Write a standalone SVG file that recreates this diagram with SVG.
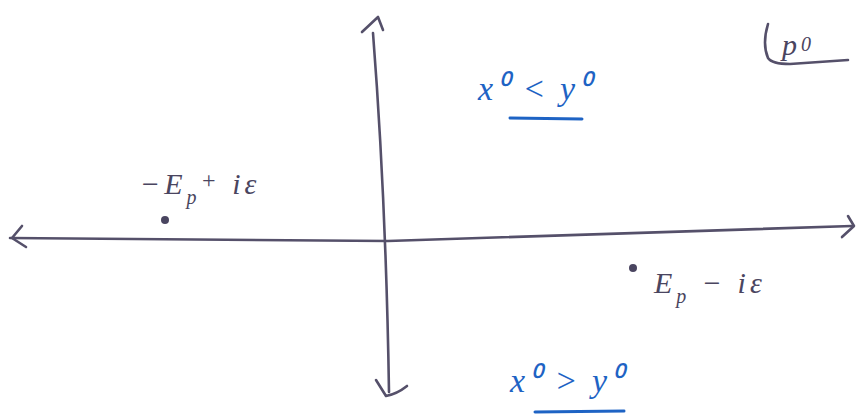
<svg xmlns="http://www.w3.org/2000/svg" width="859" height="419" viewBox="0 0 859 419">
<style>
.ax{fill:none;stroke:#55506a;stroke-width:2.6;stroke-linecap:round;stroke-linejoin:round}
.lbl{font-family:"Liberation Serif",serif;font-style:italic;fill:#4a4560;font-size:30px;letter-spacing:4px}
.blue{font-family:"Liberation Serif",serif;font-style:italic;fill:#1e63c4;font-size:34px;letter-spacing:3px}
.ul{stroke:#1e63c4;stroke-width:3;stroke-linecap:round;fill:none}
.pt{fill:#4a4560}
</style>
<rect width="859" height="419" fill="#ffffff"/>
<g id="connectors">
<path class="ax" d="M10,238 L388,241 L852,226"/>
<path class="ax" d="M22,226 L12,238 L26,247"/>
<path class="ax" d="M848,216 L854,226 L842,237"/>
<path class="ax" d="M373,33 Q386,200 389,392"/>
<path class="ax" d="M362,32 L378,17 L383,30"/>
<path class="ax" d="M376,380 L386,396 Q397,394 407,386"/>
</g>
<g id="pole-upper">
<circle class="pt" cx="165" cy="220" r="4"/>
<text class="lbl" x="140" y="194">−E<tspan font-size="20" dy="10">p</tspan><tspan dy="-16" font-size="24">+</tspan><tspan dy="6"> iε</tspan></text>
</g>
<g id="pole-lower">
<circle class="pt" cx="633" cy="268" r="4"/>
<text class="lbl" x="654" y="293">E<tspan font-size="20" dy="10">p</tspan><tspan dy="-10"> − iε</tspan></text>
</g>
<g id="region-upper">
<text class="blue" x="478" y="100">x⁰ &lt; y⁰</text>
<path class="ul" d="M510,118 L582,119"/>
</g>
<g id="region-lower">
<text class="blue" x="510" y="392">x⁰ &gt; y⁰</text>
<path class="ul" d="M535,412 L624,411"/>
</g>
<g id="plane-label">
<path class="ax" d="M768,24 Q762,44 768,58 Q772,64 790,64 L848,60"/>
<text class="lbl" x="782" y="55" font-size="34">p<tspan font-size="20" dy="-4">0</tspan></text>
</g>
</svg>
